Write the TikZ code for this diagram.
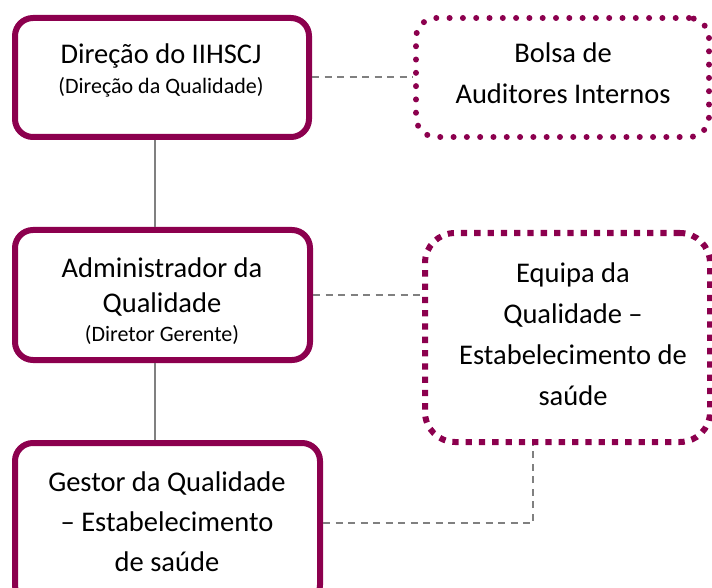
\documentclass[tikz,border=0pt]{standalone}
\usepackage{fontspec}
\setmainfont{Carlito}
\definecolor{berry}{RGB}{140,0,78}
\newcommand{\pequena}   {\fontsize{22}{30}\selectfont}

\begin{document}
\begin{tikzpicture}[x=1pt,y=-1pt,
     chefe/.style={draw=berry,line width=6pt,rounded corners=18pt,inner sep=0pt},
     bolha/.style={draw=berry,line width=6pt,rounded corners=20pt,line cap=round,dash pattern=on 0pt off 13.3pt,inner sep=0pt},
     quadr/.style={draw=berry,line width=6pt,rounded corners=30pt,dash pattern=on 6.3pt off 7pt,inner sep=0pt},
     liga/.style={draw=black!50,line width=2pt},
     tracej/.style={liga,dash pattern=on 7pt off 5.5pt},
     texto/.style={align=center,inner sep=0pt,font=\fontsize{28.5}{40}\selectfont}]
     \clip (0,0) rectangle (712,588);
     \node[chefe,minimum width=294pt,minimum height=119pt] (dir)   at (162.0, 77.5) {};
     \node[chefe,minimum width=295pt,minimum height=130pt] (adm)   at (162.5,295.0) {};
     \node[chefe,minimum width=305pt,minimum height=160pt] (ges)   at (167.5,523.0) {};
     \node[bolha,minimum width=293pt,minimum height=119pt] (bolsa) at (562.5, 77.5) {};
     \node[quadr,minimum width=285pt,minimum height=209pt] (eq)    at (567.5,337.5) {};
     \coordinate (tronco) at (155,0);
     \coordinate (desvio) at (533,0);
     \draw[liga]   (dir.south -| tronco) -- (adm.north -| tronco);
     \draw[liga]   (adm.south -| tronco) -- (ges.north -| tronco);
     \draw[tracej] (dir.east) -- (bolsa.west);
     \draw[tracej] (adm.east) -- (adm.east -| eq.west);
     \draw[tracej] (ges.east) -| (eq.south -| desvio);
     \node[texto] (dirtxt)   at (161, 70) {Direção do IIHSCJ\\[-10pt]{\pequena (Direção da Qualidade)}};
     \node[texto,font=\fontsize{28.5}{35}\selectfont] (admtxt) at (162,301) {Administrador da\\Qualidade\\[-6pt]{\pequena (Diretor Gerente)}};
     \node[texto] (gestxt)   at (167,522) {Gestor da Qualidade\\– Estabelecimento\\de saúde};
     \node[texto,font=\fontsize{28.5}{41}\selectfont] (bolsatxt) at (563, 73) {Bolsa de\\Auditores Internos};
     \node[texto,font=\fontsize{28.5}{41}\selectfont] (eqtxt)    at (573,334) {Equipa da\\Qualidade –\\Estabelecimento de\\saúde};
\end{tikzpicture}
\end{document}
